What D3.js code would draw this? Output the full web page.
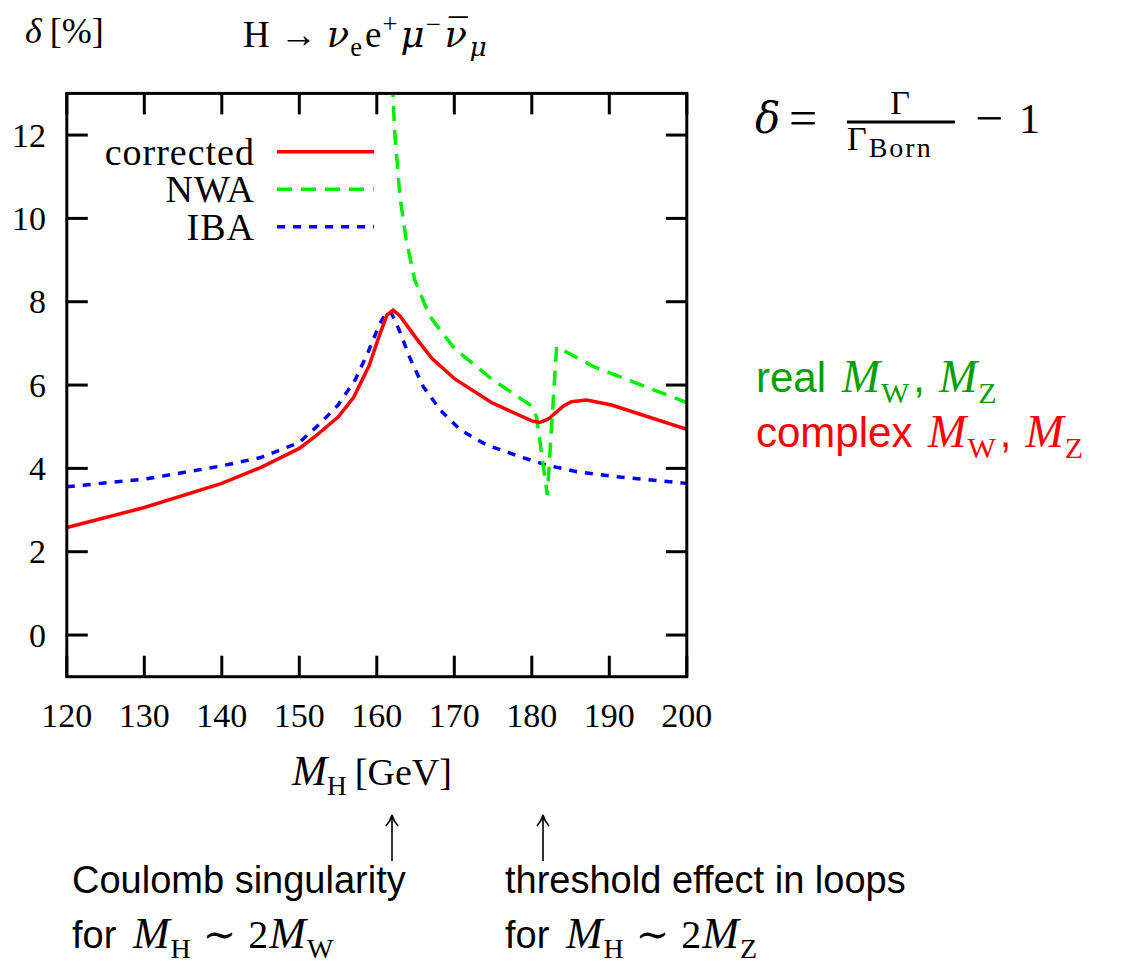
<!DOCTYPE html>
<html>
<head>
<meta charset="utf-8">
<script src="https://cdn.jsdelivr.net/npm/d3@7"></script>
<style>
  body { margin: 0; background: #fff; }
  svg { display: block; }
</style>
</head>
<body>
<div id="content"></div>
<script>
// values
var massCorr  = [120, 130, 140, 145, 150, 152, 155, 157, 159, 160.2, 161.3, 162.1, 163, 165.1, 167.1, 170.1, 174.8, 180, 181, 182.1, 184.1, 185.1, 187.1, 190.3, 200];
var deltaCorr = [2.58, 3.06, 3.64, 4.02, 4.48, 4.76, 5.23, 5.70, 6.46, 7.12, 7.68, 7.80, 7.66, 7.12, 6.64, 6.14, 5.58, 5.14, 5.10, 5.18, 5.50, 5.60, 5.64, 5.52, 4.94];

var massNWA  = [161.6, 162.3, 163, 163.8, 164.9, 166.8, 170, 175, 179.8, 180.6, 182, 183.2, 188, 200];
var deltaNWA = [15, 12.1, 10.5, 9.48, 8.52, 7.66, 6.88, 6.12, 5.52, 5.24, 3.36, 6.92, 6.44, 5.58];

var massIBA  = [120, 130, 140, 145, 150, 152.7, 155, 157.2, 158.9, 160.4, 161.3, 161.9, 162.8, 164.3, 166, 168.2, 170.8, 174.2, 178.5, 181.9, 185.8, 191, 200];
var deltaIBA = [3.56, 3.74, 4.06, 4.26, 4.62, 5.08, 5.52, 6.12, 6.80, 7.48, 7.76, 7.72, 7.36, 6.64, 5.96, 5.40, 4.92, 4.56, 4.28, 4.08, 3.92, 3.80, 3.64];

var seriesNames = ["corrected", "NWA", "IBA"];
var xTicks = [120, 130, 140, 150, 160, 170, 180, 190, 200];
var yTicks = [0, 2, 4, 6, 8, 10, 12];

var width = 1124, height = 963;
var serif = "'Liberation Serif', 'DejaVu Serif', serif";
var sans = "'Liberation Sans', Arial, sans-serif";
var greek = "'DejaVu Serif', serif";

var svg = d3.select('#content').append('svg').attr('width', width).attr('height', height);

var plotL = 66.8, plotR = 686.8, plotT = 93.4, plotB = 676.7;
var x = d3.scaleLinear().domain([120, 200]).range([plotL, plotR]);
var y = d3.scaleLinear().domain([-1, 13]).range([plotB, plotT]);

svg.append('clipPath').attr('id', 'plotclip')
  .append('rect').attr('x', plotL).attr('y', plotT).attr('width', plotR - plotL).attr('height', plotB - plotT);

// rich text helper: parts are strings or {t, i, sub, sup, f, dx, raise, fs, ls}
function rich(sel, parts, fs) {
  var off = 0;
  parts.forEach(function(p){
    if (typeof p === 'string') p = { t: p };
    var target = p.sub ? fs * 0.25 : (p.sup ? -fs * 0.38 : 0);
    if (p.raise) target = p.raise;
    var ts = sel.append('tspan').text(p.t).attr('dy', target - off);
    off = target;
    if (p.sub || p.sup) ts.attr('font-size', fs * 0.72);
    if (p.fs) ts.attr('font-size', p.fs);
    if (p.i) ts.attr('font-style', 'italic');
    if (p.f) ts.attr('font-family', p.f);
    if (p.dx) ts.attr('dx', p.dx);
    if (p.ls) ts.attr('letter-spacing', p.ls);
  });
}

// series lines
var series = [
  { name: seriesNames[0], mass: massCorr, delta: deltaCorr, color: '#ff0000', dash: null },
  { name: seriesNames[1], mass: massNWA, delta: deltaNWA, color: '#00ee00', dash: '15,9' },
  { name: seriesNames[2], mass: massIBA, delta: deltaIBA, color: '#0000ff', dash: '8,8' }
];

var line = d3.line().x(function(d){ return x(d[0]); }).y(function(d){ return y(d[1]); });

var plot = svg.append('g').attr('clip-path', 'url(#plotclip)');
// draw IBA first, corrected on top
[2, 1, 0].forEach(function(k){
  var s = series[k];
  plot.append('path')
    .datum(d3.zip(s.mass, s.delta))
    .attr('d', line)
    .attr('fill', 'none')
    .attr('stroke', s.color)
    .attr('stroke-width', 3.5)
    .attr('stroke-dasharray', s.dash);
});

// frame + ticks (inward, all four sides)
var axes = svg.append('g').attr('stroke', '#000').attr('stroke-width', 3);
var tl = 21;
xTicks.forEach(function(t){
  axes.append('line').attr('x1', x(t)).attr('x2', x(t)).attr('y1', plotB).attr('y2', plotB - tl);
  axes.append('line').attr('x1', x(t)).attr('x2', x(t)).attr('y1', plotT).attr('y2', plotT + tl);
});
yTicks.forEach(function(t){
  axes.append('line').attr('x1', plotL).attr('x2', plotL + tl).attr('y1', y(t)).attr('y2', y(t));
  axes.append('line').attr('x1', plotR).attr('x2', plotR - tl).attr('y1', y(t)).attr('y2', y(t));
});
axes.append('rect').attr('x', plotL).attr('y', plotT).attr('width', plotR - plotL).attr('height', plotB - plotT)
  .attr('fill', 'none');

// tick labels
svg.selectAll('.xlab').data(xTicks).enter().append('text')
  .attr('class', 'xlab')
  .attr('x', function(d){ return x(d); })
  .attr('y', 726.7)
  .attr('text-anchor', 'middle')
  .style('font-family', serif).style('font-size', '34px')
  .text(function(d){ return d; });

svg.selectAll('.ylab').data(yTicks).enter().append('text')
  .attr('class', 'ylab')
  .attr('x', 46)
  .attr('y', function(d){ return y(d) + 11.7; })
  .attr('text-anchor', 'end')
  .style('font-family', serif).style('font-size', '34px')
  .text(function(d){ return d; });

// axis titles
var xt = svg.append('text').attr('x', 372).attr('y', 785).attr('text-anchor', 'middle')
  .style('font-family', serif).style('font-size', '38px');
rich(xt, [{ t: 'M', i: 1, fs: 42 }, { t: 'H', sub: 1 }, { t: '[GeV]', dx: 8 }], 38);

var yt = svg.append('text').attr('x', 25).attr('y', 43)
  .style('font-family', serif).style('font-size', '36px');
rich(yt, [{ t: '\u03b4', i: 1 }, { t: '[%]', dx: 8 }], 36);

var title = svg.append('text').attr('x', 243).attr('y', 47)
  .style('font-family', serif).style('font-size', '37px');
rich(title, ['H', { t: '\u2192', dx: 10 }, { t: '\u03bd', i: 1, f: greek, dx: 10 }, { t: 'e', sub: 1, dx: 1 }, { t: 'e', dx: 3 }, { t: '+', sup: 1, dx: 1 },
  { t: '\u03bc', i: 1, f: greek, dx: 3 }, { t: '\u2212', sup: 1, dx: 1 }, { t: '\u03bd', i: 1, f: greek, dx: 4 },
  { t: '\u00af', dx: -18, raise: -2 }, { t: '\u03bc', sub: 1, i: 1, f: greek, dx: 2 }], 37);

// legend
var leg = svg.append('g');
series.forEach(function(s, i){
  var ly = 151.7 + i * 37.5;
  leg.append('text').attr('x', 255).attr('y', ly + 13)
    .attr('text-anchor', 'end')
    .style('font-family', serif).style('font-size', '38px')
    .attr('letter-spacing', 1)
    .text(s.name);
  leg.append('line').attr('x1', 277).attr('x2', 374).attr('y1', ly).attr('y2', ly)
    .attr('stroke', s.color).attr('stroke-width', 3.5)
    .attr('stroke-dasharray', s.dash);
});

// definition of delta
var def = svg.append('g').style('font-family', serif);
def.append('text').attr('x', 755).attr('y', 133).style('font-size', '42px').style('font-style', 'italic')
  .style('font-family', greek).text('\u03b4');
def.append('text').attr('x', 789).attr('y', 135).style('font-size', '50px').text('=');
def.append('line').attr('x1', 847).attr('x2', 955).attr('y1', 122).attr('y2', 122).attr('stroke', '#000').attr('stroke-width', 2.8);
def.append('text').attr('x', 900).attr('y', 114).attr('text-anchor', 'middle').style('font-size', '34px').text('\u0393');
var den = def.append('text').attr('x', 847).attr('y', 150).style('font-size', '34px');
rich(den, ['\u0393', { t: 'Born', fs: 28, raise: 7, ls: 2, dx: 2 }], 34);
def.append('text').attr('x', 975).attr('y', 135).style('font-size', '50px').text('\u2212');
def.append('text').attr('x', 1019).attr('y', 133).style('font-size', '42px').text('1');

// real / complex masses
function massPair(prefix) {
  return [prefix, { t: 'M', i: 1, f: serif, fs: 46, dx: 4 }, { t: 'W', sub: 1, f: serif, fs: 30, dx: 1 }, { t: ',', dx: 4 },
    { t: 'M', i: 1, f: serif, fs: 46, dx: 14 }, { t: 'Z', sub: 1, f: serif, fs: 30, dx: 1 }];
}
var real = svg.append('text').attr('x', 756).attr('y', 392)
  .style('font-family', sans).style('font-size', '42px').attr('fill', '#00a000');
rich(real, massPair('real '), 42);

var cplx = svg.append('text').attr('x', 756).attr('y', 447)
  .style('font-family', sans).style('font-size', '42px').attr('fill', '#ff0000');
rich(cplx, massPair('complex '), 42);

// arrows
[392, 543].forEach(function(ax){
  svg.append('path')
    .attr('d', 'M' + ax + ',861 L' + ax + ',816 M' + (ax - 6) + ',826 Q' + (ax - 1.5) + ',821 ' + ax + ',815 Q' + (ax + 1.5) + ',821 ' + (ax + 6) + ',826')
    .attr('fill', 'none').attr('stroke', '#000').attr('stroke-width', 1.6);
});

// annotations
var notes = [
  { x: 72, l1: 'Coulomb singularity', sub2: 'W' },
  { x: 505, l1: 'threshold effect in loops', sub2: 'Z' }
];
notes.forEach(function(n){
  svg.append('text').attr('x', n.x).attr('y', 893)
    .style('font-family', sans).style('font-size', '38px').text(n.l1);
  var t2 = svg.append('text').attr('x', n.x).attr('y', 948)
    .style('font-family', sans).style('font-size', '38px');
  rich(t2, ['for ', { t: 'M', i: 1, f: serif, fs: 44, dx: 6 }, { t: 'H', sub: 1, f: serif, fs: 28, dx: 1 },
    { t: '\u223c', f: serif, fs: 40, dx: 12 }, { t: '2', f: serif, fs: 40, dx: 12 },
    { t: 'M', i: 1, f: serif, fs: 44, dx: 1 }, { t: n.sub2, sub: 1, f: serif, fs: 28, dx: 1 }], 38);
});
</script>
</body>
</html>
